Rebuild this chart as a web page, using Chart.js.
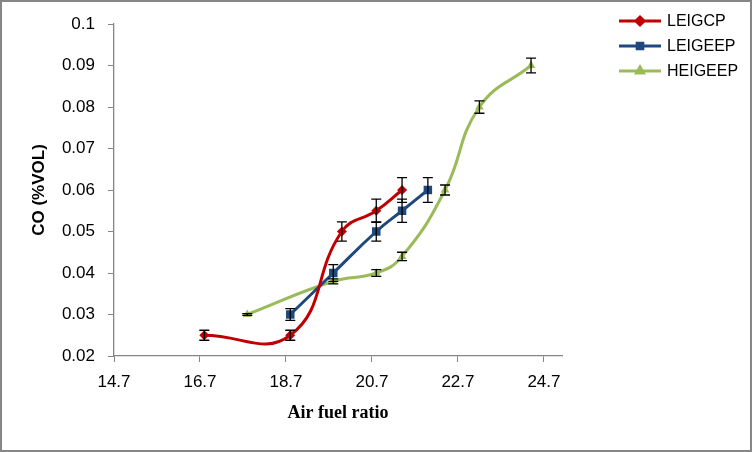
<!DOCTYPE html>
<html>
<head>
<meta charset="utf-8">
<style>
  html, body { margin: 0; padding: 0; background: #fff; }
  #wrap { width: 752px; height: 452px; }
</style>
<script src="https://cdn.jsdelivr.net/npm/chart.js@4.4.1/dist/chart.umd.min.js"></script>
</head>
<body>
<div id="wrap"><canvas id="coChart" width="752" height="452"></canvas></div>
<script>
// Data
const seriesNames = ['LEIGCP', 'LEIGEEP', 'HEIGEEP'];

const leigcpX = [16.8, 18.8, 20.0, 20.8, 21.4];
const leigcpY = [0.025, 0.025, 0.05, 0.055, 0.06];
const leigcpErr = [0.0012, 0.0012, 0.0023, 0.0028, 0.003];

const leigeepX = [18.8, 19.8, 20.8, 21.4, 22.0];
const leigeepY = [0.03, 0.04, 0.05, 0.055, 0.06];
const leigeepErr = [0.0014, 0.002, 0.0023, 0.0028, 0.003];

const heigeepX = [17.8, 19.8, 20.8, 21.4, 22.4, 23.2, 24.4];
const heigeepY = [0.03, 0.038, 0.04, 0.044, 0.06, 0.08, 0.09];
const heigeepErr = [0.0002, 0.0006, 0.0008, 0.001, 0.0012, 0.0015, 0.0018];

const xTicks = [14.7, 16.7, 18.7, 20.7, 22.7, 24.7];
const yTicks = [0.02, 0.03, 0.04, 0.05, 0.06, 0.07, 0.08, 0.09, 0.1];

const axisGrey = '#868686';

function toPoints(xs, ys) {
  return xs.map((x, i) => ({ x: x, y: ys[i] }));
}

// error bars drawn through the scales
const errorBars = {
  id: 'errorBars',
  afterDatasetsDraw(chart) {
    const ctx = chart.ctx;
    const xs = chart.scales.x, ys = chart.scales.y;
    ctx.save();
    ctx.strokeStyle = '#000';
    ctx.lineWidth = 1.3;
    chart.data.datasets.forEach(ds => {
      ds.data.forEach((p, i) => {
        const e = ds.errors[i];
        const px = xs.getPixelForValue(p.x);
        const top = ys.getPixelForValue(p.y + e);
        const bot = ys.getPixelForValue(p.y - e);
        ctx.beginPath();
        ctx.moveTo(px, top); ctx.lineTo(px, bot);
        ctx.moveTo(px - 5, top); ctx.lineTo(px + 5, top);
        ctx.moveTo(px - 5, bot); ctx.lineTo(px + 5, bot);
        ctx.stroke();
      });
    });
    ctx.restore();
  }
};

// legend (line + marker) and outer frame
const sideLegend = {
  id: 'sideLegend',
  afterDraw(chart) {
    const ctx = chart.ctx;
    ctx.save();
    chart.data.datasets.forEach((ds, i) => {
      const y = 21 + i * 25;
      ctx.strokeStyle = ds.borderColor;
      ctx.lineWidth = 3;
      ctx.beginPath();
      ctx.moveTo(619, y); ctx.lineTo(661, y);
      ctx.stroke();
      ctx.fillStyle = ds.backgroundColor;
      Chart.helpers.drawPoint(ctx, {
        pointStyle: ds.pointStyle, radius: 4, borderWidth: 1
      }, 640, y);
      ctx.fillStyle = '#000';
      ctx.font = '16px "Liberation Sans", Arial, sans-serif';
      ctx.textBaseline = 'middle';
      ctx.textAlign = 'left';
      ctx.fillText(ds.label, 667, y + 1);
    });
    ctx.strokeStyle = axisGrey;
    ctx.lineWidth = 2;
    ctx.strokeRect(1, 1, 750, 450);
    ctx.restore();
  }
};

const ctx = document.getElementById('coChart').getContext('2d');
const coChart = new Chart(ctx, {
  type: 'line',
  data: {
    datasets: [
      {
        label: seriesNames[0],
        data: toPoints(leigcpX, leigcpY),
        errors: leigcpErr,
        borderColor: '#C00000',
        backgroundColor: '#C00000',
        pointStyle: 'rectRot',
        pointRadius: 5
      },
      {
        label: seriesNames[1],
        data: toPoints(leigeepX, leigeepY),
        errors: leigeepErr,
        borderColor: '#1F497D',
        backgroundColor: '#1F497D',
        pointStyle: 'rect',
        pointRadius: 6
      },
      {
        label: seriesNames[2],
        data: toPoints(heigeepX, heigeepY),
        errors: heigeepErr,
        borderColor: '#9BBB59',
        backgroundColor: '#9BBB59',
        pointStyle: 'triangle',
        pointRadius: 5
      }
    ]
  },
  options: {
    responsive: false,
    animation: false,
    layout: { padding: { top: 24, right: 190, left: 0, bottom: 0 } },
    elements: {
      line: { borderWidth: 3, tension: 0.45, fill: false },
      point: { borderWidth: 0, hoverRadius: 6 }
    },
    plugins: {
      legend: { display: false },
      tooltip: { enabled: false }
    },
    scales: {
      x: {
        type: 'linear',
        min: 14.7,
        max: 25.12,
        afterBuildTicks: s => { s.ticks = xTicks.map(v => ({ value: v })); },
        afterFit: s => { s.height = 96; },
        ticks: {
          padding: 10,
          color: '#000',
          font: { family: '"Liberation Sans", Arial, sans-serif', size: 17 },
          callback: v => v.toFixed(1)
        },
        grid: { drawOnChartArea: false, tickLength: 6, color: axisGrey },
        border: { color: axisGrey, width: 1.3 },
        title: {
          display: true,
          text: 'Air fuel ratio',
          color: '#000',
          font: { family: '"Liberation Serif", "Times New Roman", serif', size: 18, weight: 'bold' },
          padding: { top: 0, bottom: 28 }
        }
      },
      y: {
        min: 0.02,
        max: 0.1,
        afterBuildTicks: s => { s.ticks = yTicks.map(v => ({ value: v })); },
        afterFit: s => { s.width = 114; },
        ticks: {
          padding: 13,
          color: '#000',
          font: { family: '"Liberation Sans", Arial, sans-serif', size: 17 },
          callback: v => String(v)
        },
        grid: { drawOnChartArea: false, tickLength: 6, color: axisGrey },
        border: { color: axisGrey, width: 1.3 },
        title: {
          display: true,
          text: 'CO (%VOL)',
          color: '#000',
          font: { family: '"Liberation Sans", Arial, sans-serif', size: 17, weight: 'bold' },
          padding: { top: 29, bottom: 0 }
        }
      }
    }
  },
  plugins: [errorBars, sideLegend]
});
</script>
</body>
</html>
